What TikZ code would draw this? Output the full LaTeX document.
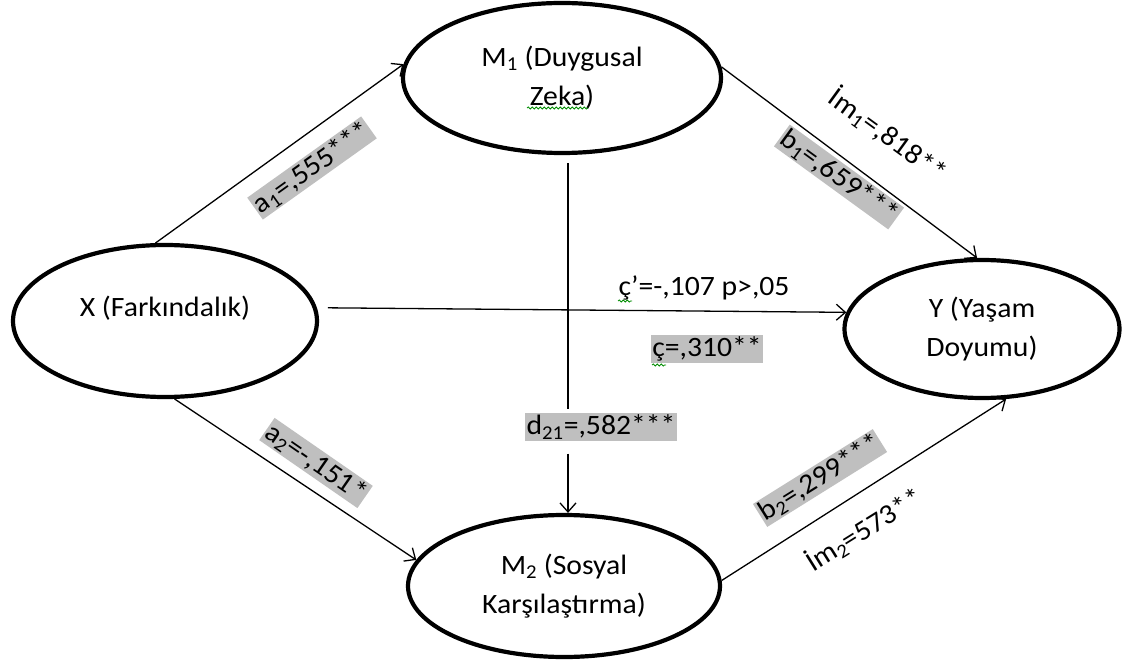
\documentclass[tikz,border=0pt]{standalone}
\usepackage{fontspec}
\setmainfont{Carlito}[FakeStretch=1.06]
\usetikzlibrary{shapes.geometric,arrows.meta,decorations.pathmorphing}
\begin{document}
\begin{tikzpicture}[x=1pt,y=-1pt,
  ell/.style={ellipse,draw,line width=4.2pt,inner sep=0pt,align=center,font=\fontsize{28}{39}\selectfont},
  conn/.style={line width=1.3pt,-{Straight Barb[length=9pt,width=16pt,line width=1.3pt]}},
  plainline/.style={line width=1.3pt},
  lbl/.style={fill=gray!50,inner sep=1.5pt,font=\fontsize{28}{30}\selectfont},
  plainlbl/.style={inner sep=1pt,font=\fontsize{28}{30}\selectfont},
  squig/.style={draw=green!55!black,line width=0.8pt,decorate,decoration={snake,amplitude=1pt,segment length=4pt}}]
\useasboundingbox (0,0) rectangle (1124,668);
% nodes
\node[ell,minimum width=304pt,minimum height=152pt,
      label={[font=\fontsize{28}{39}\selectfont,yshift=13pt]center:X (Farkındalık)}] (X) at (165,321) {};
\node[ell,minimum width=318pt,minimum height=150pt] (M1) at (562,78) {M\textsubscript{1} (Duygusal\\Zeka)};
\node[ell,minimum width=275pt,minimum height=138pt] (Y) at (982,329) {Y (Yaşam\\Doyumu)};
\node[ell,minimum width=312pt,minimum height=142pt] (M2) at (564,586) {M\textsubscript{2} (Sosyal\\Karşılaştırma)};
% labels
\node[lbl,rotate=35.5] (la1) at (312,168) {a\textsubscript{1}=,555***};
\node[lbl,rotate=-36] (lb1) at (839,177) {b\textsubscript{1}=,659***};
\node[plainlbl,rotate=-36] (lim1) at (888,135) {İm\textsubscript{1}=,818**};
\node[plainlbl] (lcp) at (704,288) {ç’=-,107 p>,05};
\node[lbl] (lc) at (707,349) {ç=,310**};
\node[lbl] (d21) at (601,427) {d\textsubscript{21}=,582***};
\node[lbl,rotate=-34.7] (la2) at (316,463) {a\textsubscript{2}=-,151*};
\node[lbl,rotate=32] (lb2) at (820,478) {b\textsubscript{2}=,299***};
\node[plainlbl,rotate=32] (lim2) at (864,530) {İm\textsubscript{2}=573**};
% connectors
\draw[conn] (X.97.5) -- (M1.175);
\draw[conn] (X.277.5) -- (M2.170);
\draw[conn,shorten <=11pt] (X.5) -- (Y.173);
\draw[conn] (M1.4.7) -- (Y.94);
\draw[conn] (M2.2) -- (Y.289);
\draw[plainline,shorten <=8pt,shorten >=4pt] ([xshift=6pt]M1.south) -- ([xshift=6pt]M1.south |- d21.north);
\draw[conn,shorten <=13pt] ([xshift=6pt]M1.south |- d21.south) -- ([xshift=4pt]M2.north);
% spell-check marks
\draw[squig] (527,108) -- (588,108);
\draw[squig] (618,301) -- (632,301);
\draw[squig] (652,365) -- (666,365);
\end{tikzpicture}
\end{document}
